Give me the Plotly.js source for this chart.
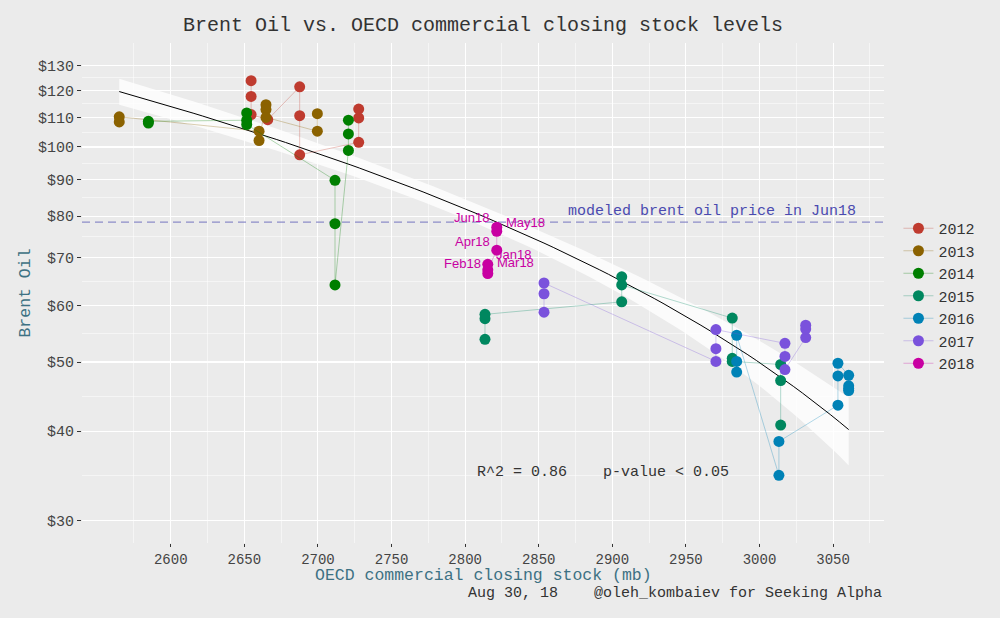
<!DOCTYPE html>
<html>
<head>
<meta charset="utf-8">
<script src="https://cdn.plot.ly/plotly-3.0.1.min.js"></script>
<style>
  html, body { margin: 0; padding: 0; background: #ebebeb; }
  #graph { width: 1000px; height: 618px; }
</style>
</head>
<body>
<div id="graph"></div>
<script>
// Данные: запасы OECD (mb) и цена Brent ($)
const years = ["2012", "2013", "2014", "2015", "2016", "2017", "2018"];
const yearColors = ["#bf3b2f", "#8b6200", "#007f00", "#00875f", "#0082b6", "#7a52dc", "#c800a2"];
const lineColors = [
  "rgba(191,59,47,0.3)", "rgba(139,98,0,0.3)", "rgba(0,127,0,0.3)", "rgba(0,135,95,0.3)",
  "rgba(0,130,182,0.3)", "rgba(122,82,220,0.3)", "rgba(200,0,162,0.3)",
];

const stock2012 = [2654.6, 2654.6, 2654.6, 2665.9, 2687.6, 2687.6, 2687.6, 2727.7, 2727.7, 2727.7];
const brent2012 = [123.8, 117.7, 111.0, 109.2, 121.4, 110.6, 97.5, 101.5, 109.8, 113.0];

const stock2013 = [2565.0, 2565.0, 2660.0, 2660.0, 2664.7, 2664.7, 2664.7, 2699.6, 2699.6];
const brent2013 = [108.4, 110.2, 105.2, 102.1, 114.6, 112.8, 110.0, 105.2, 111.3];

const stock2014 = [2584.8, 2584.8, 2651.6, 2651.6, 2651.6, 2711.6, 2711.6, 2711.6, 2720.7, 2720.7, 2720.7];
const brent2014 = [108.0, 108.6, 109.0, 111.6, 107.5, 89.8, 78.1, 64.1, 98.9, 104.3, 109.0];

const stock2015 = [2813.5, 2813.5, 2813.5, 2906.4, 2906.4, 2906.4, 2981.5, 2981.5, 2981.5, 3014.4, 3014.4, 3014.4];
const brent2015 = [53.8, 57.5, 58.3, 60.7, 65.8, 64.1, 57.6, 50.6, 50.1, 49.6, 47.1, 40.8];

const stock2016 = [2984.5, 2984.5, 2984.5, 3013.2, 3013.2, 3053.3, 3053.3, 3053.3, 3060.6, 3060.6, 3060.6, 3060.6];
const brent2016 = [48.4, 50.1, 54.5, 34.7, 38.7, 43.5, 47.8, 49.8, 47.9, 46.3, 45.9, 45.6];

const stock2017 = [2853.6, 2853.6, 2853.6, 2970.4, 2970.4, 2970.4, 3017.3, 3017.3, 3017.3, 3031.4, 3031.4, 3031.4];
const brent2017 = [58.7, 62.3, 64.5, 50.1, 52.2, 55.5, 53.1, 50.9, 48.8, 54.1, 55.6, 56.3];

const stock2018 = [2815.4, 2815.4, 2815.4, 2821.5, 2821.5, 2821.5];
const brent2018 = [68.5, 66.5, 67.3, 71.7, 76.2, 77.2];
const months2018 = ["Jan18", "Feb18", "Mar18", "Apr18", "May18", "Jun18"];

// Метки осей
const priceTicks = [30, 40, 50, 60, 70, 80, 90, 100, 110, 120, 130];
const priceTickText = priceTicks.map((v) => "$" + v);
const stockTicks = [2600, 2650, 2700, 2750, 2800, 2850, 2900, 2950, 3000, 3050];

const stocks = [stock2012, stock2013, stock2014, stock2015, stock2016, stock2017, stock2018];
const prices = [brent2012, brent2013, brent2014, brent2015, brent2016, brent2017, brent2018];

const MONO = "Liberation Mono";
const X_RANGE = [2539.7, 3084.6];
const Y_RANGE = [Math.log10(27.9), Math.log10(139.8)];
const T_95 = 1.995;

/**
 * Линейная регрессия y = off + sl * x
 */
function linearRegression(x, y) {
  const n = y.length;
  let sum_x = 0, sum_y = 0, sum_xy = 0, sum_xx = 0;
  for (let i = 0; i < n; i++) {
    sum_x += x[i];
    sum_y += y[i];
    sum_xy += x[i] * y[i];
    sum_xx += x[i] * x[i];
  }
  const sl = (n * sum_xy - sum_x * sum_y) / (n * sum_xx - sum_x * sum_x);
  const off = (sum_y - sl * sum_x) / n;
  const xbar = sum_x / n;
  const sxx = sum_xx - n * xbar * xbar;
  let sse = 0;
  for (let i = 0; i < n; i++) {
    const r = y[i] - (off + sl * x[i]);
    sse += r * r;
  }
  return { sl, off, n, xbar, sxx, s: Math.sqrt(sse / (n - 2)) };
}

const allX = [].concat(...stocks);
const allY = [].concat(...prices);
const lr = linearRegression(allX, allY);

// кривая модели и доверительный интервал (как в geom_smooth, 80 точек)
const fitX = [], fitY = [], fitLo = [], fitHi = [];
const minX = Math.min(...allX), maxX = Math.max(...allX);
for (let i = 0; i < 80; i++) {
  const xv = minX + (maxX - minX) * i / 79;
  const yv = lr.off + lr.sl * xv;
  const se = lr.s * Math.sqrt(1 / lr.n + Math.pow(xv - lr.xbar, 2) / lr.sxx);
  fitX.push(xv);
  fitY.push(yv);
  fitLo.push(yv - T_95 * se);
  fitHi.push(yv + T_95 * se);
}

const lastStock = stock2018[stock2018.length - 1];
const modeledPrice = lr.off + lr.sl * lastStock;

const traces = [
  { x: fitX, y: fitLo, mode: "lines", line: { width: 0 }, showlegend: false, hoverinfo: "skip" },
  { x: fitX, y: fitHi, mode: "lines", line: { width: 0 }, fill: "tonexty",
    fillcolor: "rgba(255,255,255,0.78)", showlegend: false, hoverinfo: "skip" },
  { x: fitX, y: fitY, mode: "lines", line: { color: "#000", width: 1 }, showlegend: false },
  { x: X_RANGE, y: [modeledPrice, modeledPrice], mode: "lines",
    line: { color: "#7474bf", width: 1, dash: "8px,5px" }, showlegend: false },
];

years.forEach((yr, i) => {
  traces.push({
    x: stocks[i],
    y: prices[i],
    name: yr,
    type: "scatter",
    mode: "lines+markers",
    line: { color: lineColors[i], width: 1 },
    marker: { color: yearColors[i], size: 11 },
  });
});

// подписи месяцев 2018
const monthShift = {
  Jan18: [26, 10], Feb18: [-25, 10], Mar18: [28, 7],
  Apr18: [-24, 9], May18: [29, 9], Jun18: [-25, 10],
};
const annotations = months2018.map((m, i) => ({
  x: stock2018[i],
  y: Math.log10(brent2018[i]),
  xref: "x", yref: "y",
  text: m,
  showarrow: false,
  xshift: monthShift[m][0],
  yshift: monthShift[m][1],
  font: { family: "Liberation Sans", size: 13, color: "#c800a2" },
}));

annotations.push({
  x: 3066.9, y: Math.log10(modeledPrice), xref: "x", yref: "y",
  xanchor: "right", yanchor: "bottom", yshift: 0,
  text: "modeled brent oil price in Jun18", showarrow: false,
  font: { family: MONO, size: 15, color: "#4a4ab0" },
});
annotations.push({
  x: 2893.7, y: Math.log10(35.05), xref: "x", yref: "y",
  text: "R^2 = 0.86\u00a0\u00a0\u00a0\u00a0p-value < 0.05", showarrow: false,
  font: { family: MONO, size: 15, color: "#333" },
});
// подпись оси X и источник
annotations.push({
  x: 0.5, y: -0.064, xref: "paper", yref: "paper", xanchor: "center", yanchor: "middle",
  text: "OECD commercial closing stock (mb)", showarrow: false,
  font: { family: MONO, size: 16.5, color: "#3d7183" },
});
annotations.push({
  x: 1, y: -0.1, xref: "paper", yref: "paper", xanchor: "right", yanchor: "middle",
  text: "Aug 30, 18\u00a0\u00a0\u00a0\u00a0@oleh_kombaiev for Seeking Alpha", showarrow: false,
  font: { family: MONO, size: 15, color: "#333" },
});

const layout = {
  width: 1000,
  height: 618,
  paper_bgcolor: "#ebebeb",
  plot_bgcolor: "#ebebeb",
  margin: { l: 82, r: 116, t: 43, b: 75 },
  font: { family: MONO, color: "#444" },
  title: {
    text: "Brent Oil vs. OECD commercial closing stock levels",
    font: { family: MONO, size: 20, color: "#333" },
    xref: "paper", x: 0.5, y: 0.961, yanchor: "middle",
  },
  xaxis: {
    range: X_RANGE,
    tickvals: stockTicks,
    ticks: "outside", ticklen: 3, tickcolor: "#333",
    tickfont: { family: MONO, size: 14, color: "#444" },
    gridcolor: "#fff", gridwidth: 1.1,
    minor: { dtick: 50, tick0: 2575, showgrid: true, gridcolor: "#fff", gridwidth: 0.5, ticks: "" },
    zeroline: false, showline: false,
  },
  yaxis: {
    type: "log",
    range: Y_RANGE,
    tickvals: priceTicks,
    ticktext: priceTickText,
    ticks: "outside", ticklen: 4, tickcolor: "#333",
    tickfont: { family: MONO, size: 15, color: "#444" },
    gridcolor: "#fff", gridwidth: 1.1,
    minor: {
      tickvals: priceTicks.slice(1).map((v, i) => Math.sqrt(v * priceTicks[i])),
      showgrid: true, gridcolor: "#fff", gridwidth: 0.5, ticks: "",
    },
    zeroline: false, showline: false,
    title: { text: "Brent Oil", standoff: 3,
      font: { family: MONO, size: 16.5, color: "#3d7183" } },
  },
  legend: {
    x: 1.018, xanchor: "left", y: 0.494, yanchor: "middle",
    traceorder: "normal",
    font: { family: MONO, size: 15, color: "#333" },
    bgcolor: "rgba(0,0,0,0)", itemwidth: 30,
  },
  annotations: annotations,
  showlegend: true,
};

Plotly.newPlot("graph", traces, layout, { displayModeBar: false, staticPlot: true });
</script>
</body>
</html>
